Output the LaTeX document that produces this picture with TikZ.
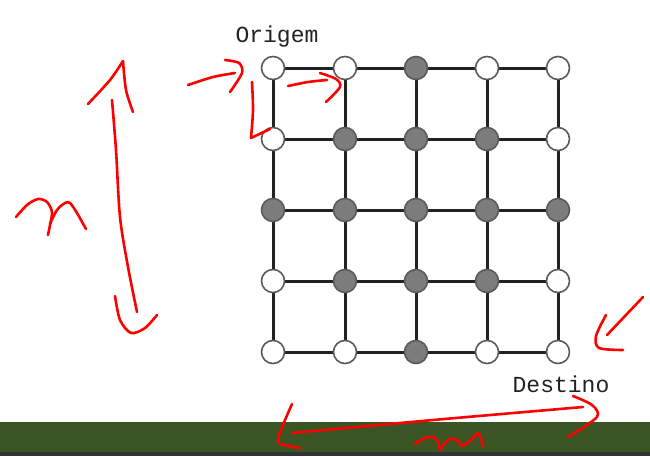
\documentclass[tikz,border=0pt]{standalone}
\usepackage{fontspec}
\setmonofont{Liberation Mono}
\definecolor{gridline}{HTML}{222222}
\definecolor{nodegray}{HTML}{7C7C7C}
\definecolor{ringgray}{HTML}{5A5A5A}
\definecolor{barGreen}{HTML}{3A5424}
\definecolor{barDark}{HTML}{333333}
\definecolor{textgray}{HTML}{222222}
\pgfdeclarelayer{bg}
\pgfdeclarelayer{edges}
\pgfsetlayers{bg,edges,main}
\begin{document}
\begin{tikzpicture}[x=1pt,y=-1pt,
  nw/.style={circle,draw=ringgray,line width=1.6pt,fill=white,minimum size=23pt,inner sep=0pt},
  ng/.style={circle,draw=ringgray,line width=1.6pt,fill=nodegray,minimum size=23pt,inner sep=0pt},
  edge/.style={draw=gridline,line width=3pt},
  ink/.style={draw=red,line width=2.6pt,line cap=round,line join=round},
  lbl/.style={font=\ttfamily\fontsize{23}{23}\selectfont,text=textgray,inner sep=0pt}]
\useasboundingbox (0,0) rectangle (650,456);
\begin{pgfonlayer}{bg}
\fill[white] (0,0) rectangle (650,456);
\fill[barGreen] (0,422) rectangle (650,452);
\fill[barDark] (0,452) rectangle (650,456);
\end{pgfonlayer}
% grid nodes
\def\colx{{273,345,416,487,558}}
\def\rowy{{68,139,210,281,352}}
\foreach \r/\pattern in {0/{w,w,g,w,w},1/{w,g,g,g,w},2/{g,g,g,g,g},3/{w,g,g,g,w},4/{w,w,g,w,w}}{
  \foreach \t [count=\c from 0] in \pattern {
    \pgfmathsetmacro{\xx}{\colx[\c]}
    \pgfmathsetmacro{\yy}{\rowy[\r]}
    \node[n\t] (n\r\c) at (\xx,\yy) {};
  }
}
% edges (behind nodes)
\begin{pgfonlayer}{edges}
\foreach \r in {0,...,4}{
  \foreach \c [evaluate=\c as \d using int(\c+1)] in {0,...,3}{
    \draw[edge] (n\r\c.center) -- (n\r\d.center);
  }
}
\foreach \c in {0,...,4}{
  \foreach \r [evaluate=\r as \s using int(\r+1)] in {0,...,3}{
    \draw[edge] (n\r\c.center) -- (n\s\c.center);
  }
}
\end{pgfonlayer}
% labels
\node[lbl] (origem) at (277,37) {Origem};
\node[lbl] (destino) at (561,384) {Destino};
% red annotations
% vertical double arrow (n)
\draw[ink] plot[smooth] coordinates {(112,100) (116,150) (120,217) (128,267) (137,312)};
\draw[ink] plot[smooth] coordinates {(88,104) (110,80) (123,61)};
\draw[ink] plot[smooth] coordinates {(123,61) (126,90) (133,112)};
\draw[ink] plot[smooth] coordinates {(115,296) (120,320) (131,333) (145,328) (157,315)};
% letter n
\draw[ink] plot[smooth] coordinates {(16,217) (27,205) (38,199) (47,202) (52,212) (50,225) (48,235)};
\draw[ink] plot[smooth] coordinates {(50,224) (57,210) (65,203) (70,203) (77,213) (86,229)};
% arrow into Origem
\draw[ink] plot[smooth] coordinates {(188,85) (213,77) (235,73)};
\draw[ink] plot[smooth] coordinates {(225,60) (239,63) (242,73) (230,92)};
% down arrow
\draw[ink] plot[smooth] coordinates {(252,82) (253,110) (251,138)};
\draw[ink] (251,138) -- (270,129);
% right arrow
\draw[ink] plot[smooth] coordinates {(288,86) (308,82) (327,80)};
\draw[ink] plot[smooth] coordinates {(320,73) (336,79) (340,87) (326,102)};
% arrow to Destino
\draw[ink] (643,297) -- (607,335);
\draw[ink] plot[smooth] coordinates {(606,315) (596,336) (599,348) (623,350)};
% horizontal double arrow (m)
\draw[ink] plot[smooth] coordinates {(292,433) (433,420) (583,407)};
\draw[ink] plot[smooth] coordinates {(292,404) (281,430) (279,443) (300,448)};
\draw[ink] plot[smooth] coordinates {(573,396) (592,405) (597,417) (568,437)};
% letter m
\draw[ink] plot[smooth] coordinates {(415,444) (425,438) (433,437) (438,442) (440,450)};
\draw[ink] plot[smooth] coordinates {(440,450) (445,443) (450,439) (457,440) (462,446) (467,443) (472,439) (478,433) (482,442) (483,447)};
\end{tikzpicture}
\end{document}
